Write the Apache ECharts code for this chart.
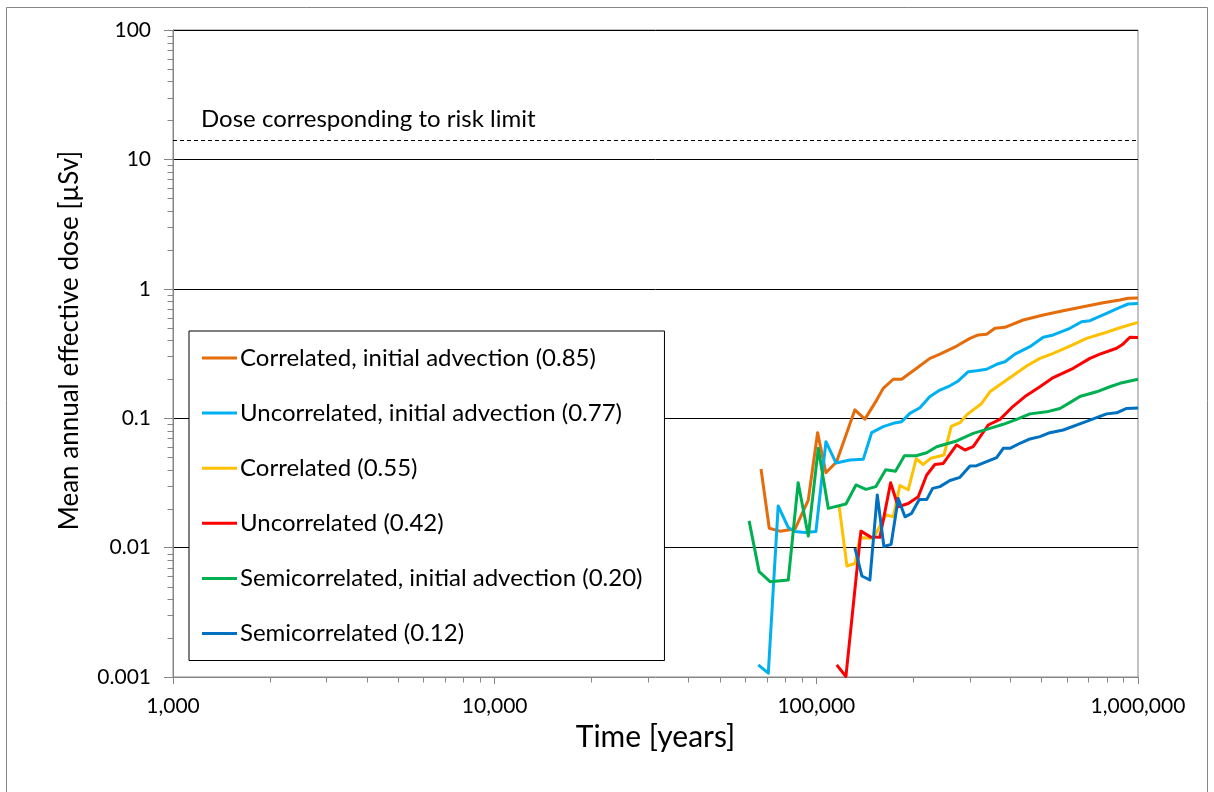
<!DOCTYPE html>
<html>
<head>
<meta charset="utf-8">
<title>Mean annual effective dose</title>
<script src="https://cdn.jsdelivr.net/npm/echarts/dist/echarts.min.js"></script>
<style>
  html, body { margin: 0; padding: 0; background: #ffffff; }
  #chart { width: 1214px; height: 792px; }
</style>
</head>
<body>
<div id="chart"></div>
<script>
// Time [years] and mean annual effective dose [µSv] pairs for each case
const correlatedInitialAdvection = [
  [67300, 0.0405], [71400, 0.0141], [77000, 0.0134], [85800, 0.0139], [94400, 0.0233],
  [100900, 0.0773], [107100, 0.0379], [115600, 0.0461], [131800, 0.116], [141600, 0.0984],
  [154000, 0.138], [161400, 0.170], [173400, 0.200], [184100, 0.200], [205000, 0.243],
  [225500, 0.290], [242300, 0.313], [273100, 0.361], [300300, 0.414], [318700, 0.440],
  [338400, 0.445], [359100, 0.495], [385700, 0.504], [439700, 0.574], [507500, 0.627],
  [585500, 0.677], [675500, 0.727], [779500, 0.781], [878500, 0.819], [932200, 0.845],
  [1000000, 0.85]
];
const uncorrelatedInitialAdvection = [
  [66000, 0.00124], [70900, 0.00107], [76100, 0.0210], [81800, 0.0143], [85800, 0.0133],
  [92200, 0.0131], [99700, 0.0133], [107100, 0.0658], [115100, 0.0451], [127200, 0.0475],
  [139900, 0.0481], [148600, 0.0773], [161400, 0.0860], [173400, 0.0913], [184100, 0.0940],
  [195400, 0.109], [209900, 0.1205], [225500, 0.147], [242300, 0.165], [260200, 0.178],
  [276200, 0.194], [296700, 0.229], [315000, 0.233], [338400, 0.239], [363500, 0.261],
  [385800, 0.273], [414500, 0.313], [461300, 0.357], [507500, 0.422], [545100, 0.440],
  [614200, 0.495], [667800, 0.557], [708700, 0.567], [798700, 0.647], [878500, 0.719],
  [932200, 0.763], [1000000, 0.77]
];
const correlated = [
  [117800, 0.0207], [124500, 0.00721], [131800, 0.00754], [136600, 0.0119], [150300, 0.0118],
  [164600, 0.0179], [173400, 0.0173], [181900, 0.0302], [193100, 0.0280], [204400, 0.0486],
  [214900, 0.0439], [226800, 0.0490], [249300, 0.0519], [262600, 0.0866], [279600, 0.0923],
  [293300, 0.106], [326500, 0.130], [346400, 0.160], [390400, 0.197], [450600, 0.253],
  [495500, 0.290], [545100, 0.317], [614200, 0.361], [692100, 0.414], [779500, 0.453],
  [878500, 0.500], [1000000, 0.55]
];
const uncorrelated = [
  [115700, 0.00124], [123600, 0.00101], [137600, 0.0134], [147300, 0.0121], [157600, 0.0120],
  [170200, 0.0317], [179700, 0.0207], [193100, 0.0219], [207400, 0.0247], [220300, 0.0364],
  [233700, 0.0439], [248100, 0.0447], [273000, 0.0621], [289700, 0.0568], [307400, 0.0602],
  [342300, 0.0886], [372200, 0.098], [404700, 0.1205], [445100, 0.147], [495500, 0.175],
  [545100, 0.206], [629000, 0.243], [708700, 0.290], [761300, 0.313], [858100, 0.347],
  [899500, 0.375], [943600, 0.422], [1000000, 0.42]
];
const semicorrelatedInitialAdvection = [
  [61800, 0.0161], [66400, 0.00652], [71800, 0.00545], [81800, 0.00562], [87800, 0.0317],
  [94400, 0.0123], [101400, 0.0585], [108900, 0.0201], [123600, 0.0217], [132800, 0.0305],
  [142600, 0.0282], [153200, 0.0296], [164300, 0.0400], [176200, 0.0389], [187900, 0.0512],
  [204000, 0.0513], [220300, 0.0541], [236600, 0.0602], [273000, 0.0667], [307400, 0.0764],
  [346400, 0.0835], [381100, 0.0897], [419500, 0.098], [461300, 0.108], [520000, 0.112],
  [571800, 0.119], [614200, 0.132], [659700, 0.147], [743500, 0.160], [817800, 0.175],
  [878500, 0.186], [1000000, 0.20]
];
const semicorrelated = [
  [131800, 0.00993], [138600, 0.00603], [146700, 0.00562], [154700, 0.0255], [162200, 0.0102],
  [170800, 0.0106], [179700, 0.0240], [188600, 0.0173], [197800, 0.0184], [208900, 0.0235],
  [220300, 0.0235], [229900, 0.0287], [242300, 0.0296], [260200, 0.0330], [279600, 0.0349],
  [300300, 0.0427], [315000, 0.0430], [338400, 0.0461], [363500, 0.0495], [381100, 0.0585],
  [399800, 0.0585], [429500, 0.0640], [461300, 0.0691], [495500, 0.0720], [532300, 0.0773],
  [585500, 0.0811], [675500, 0.0923], [743500, 0.101], [798700, 0.108], [858100, 0.110],
  [921800, 0.119], [1000000, 0.12]
];

const seriesNames = [
  'Correlated, initial advection (0.85)',
  'Uncorrelated, initial advection (0.77)',
  'Correlated (0.55)',
  'Uncorrelated (0.42)',
  'Semicorrelated, initial advection (0.20)',
  'Semicorrelated (0.12)'
];
const seriesColors = ['#E46C0A', '#00B0F0', '#FFC000', '#FF0000', '#00B050', '#0070C0'];
const seriesData = [
  correlatedInitialAdvection, uncorrelatedInitialAdvection, correlated,
  uncorrelated, semicorrelatedInitialAdvection, semicorrelated
];

// Dose corresponding to the risk limit [µSv]
const riskLimitDose = 14;
const riskLimitLabel = 'Dose corresponding to risk limit';

// Axis ranges and minor tick multipliers for the logarithmic axes
const timeMin = 1000, timeMax = 1000000;
const doseMin = 0.001, doseMax = 100;
const minorMultipliers = [2, 3, 4, 5, 6, 7, 8, 9];
const timeDecades = [1000, 10000, 100000];
const doseDecades = [0.001, 0.01, 0.1, 1, 10];

const axisGrey = '#868686';
const fontFamily = 'Lato, "Noto Sans", sans-serif';

const timeMinorTicks = [];
timeDecades.forEach(d => minorMultipliers.forEach(m => timeMinorTicks.push([d * m, doseMin])));
const doseMinorTicks = [];
doseDecades.forEach(d => minorMultipliers.forEach(m => doseMinorTicks.push([timeMin, +(d * m).toPrecision(3)])));

function tickRenderer(horizontal, len) {
  return function (params, api) {
    const p = api.coord([api.value(0), api.value(1)]);
    const x = Math.round(p[0]) + 0.5, y = Math.round(p[1]) + 0.5;
    return {
      type: 'line',
      shape: horizontal ? { x1: x - len, y1: y, x2: x, y2: y } : { x1: x, y1: y, x2: x, y2: y + len },
      style: { stroke: axisGrey, lineWidth: 1 }
    };
  };
}

const lineSeries = seriesNames.map((name, i) => {
  const s = {
    name: name,
    type: 'line',
    data: seriesData[i],
    showSymbol: false,
    symbol: 'none',
    lineStyle: { width: 3, color: seriesColors[i], join: 'round' },
    itemStyle: { color: seriesColors[i] },
    emphasis: { disabled: true },
    z: 3 + i
  };
  if (i === 0) {
    s.markLine = {
      silent: true,
      symbol: ['none', 'none'],
      animation: false,
      lineStyle: { color: '#000000', type: [4, 3], width: 1 },
      label: {
        show: true,
        position: 'insideStartTop',
        formatter: riskLimitLabel,
        color: '#000000',
        fontFamily: fontFamily,
        fontSize: 24,
        distance: [28, 9]
      },
      data: [{ yAxis: riskLimitDose }]
    };
  }
  return s;
});

const chart = echarts.init(document.getElementById('chart'), null, { renderer: 'canvas' });
chart.setOption({
  animation: false,
  backgroundColor: '#ffffff',
  textStyle: { fontFamily: fontFamily, color: '#000000' },
  graphic: [{
    type: 'rect',
    shape: { x: 6.5, y: 7.5, width: 1201, height: 800 },
    style: { fill: 'none', stroke: axisGrey, lineWidth: 1 },
    silent: true,
    z: -10
  }],
  grid: {
    left: 173, right: 76, top: 30, bottom: 115,
    containLabel: false,
    outerBoundsMode: 'none',
    show: true,
    borderColor: axisGrey,
    borderWidth: 1,
    backgroundColor: 'transparent'
  },
  legend: {
    orient: 'vertical',
    left: 189,
    top: 331,
    data: seriesNames,
    selectedMode: false,
    icon: 'rect',
    itemWidth: 35,
    itemHeight: 3,
    itemGap: 31.1,
    padding: [15, 22, 15, 13],
    borderColor: '#000000',
    borderWidth: 1,
    backgroundColor: '#ffffff',
    textStyle: { fontFamily: fontFamily, fontSize: 24, color: '#000000', padding: [0, 0, 0, -2] }
  },
  xAxis: {
    type: 'log',
    logBase: 10,
    min: timeMin,
    max: timeMax,
    name: 'Time [years]',
    nameLocation: 'middle',
    nameGap: 40,
    nameTextStyle: { fontFamily: fontFamily, fontSize: 30, color: '#000000' },
    axisLine: { show: true, lineStyle: { color: axisGrey, width: 1 } },
    axisTick: { show: true, length: 7, lineStyle: { color: axisGrey } },
    axisLabel: {
      fontFamily: fontFamily, fontSize: 21, color: '#000000', margin: 19,
      formatter: v => Math.round(v).toLocaleString('en-US')
    },
    splitLine: { show: false }
  },
  yAxis: {
    type: 'log',
    logBase: 10,
    min: doseMin,
    max: doseMax,
    name: 'Mean annual effective dose [µSv]',
    nameLocation: 'middle',
    nameGap: 90,
    nameTextStyle: { fontFamily: fontFamily, fontSize: 26, color: '#000000', padding: [0, 0, 0, 26] },
    axisLine: { show: true, lineStyle: { color: axisGrey, width: 1 } },
    axisTick: { show: true, length: 9, lineStyle: { color: axisGrey } },
    axisLabel: {
      fontFamily: fontFamily, fontSize: 21, color: '#000000', margin: 22,
      formatter: v => String(+v.toPrecision(3))
    },
    splitLine: { show: true, showMinLine: false, lineStyle: { color: '#000000', width: 1 } }
  },
  series: lineSeries.concat([
    {
      type: 'custom',
      name: 'time minor ticks',
      silent: true,
      clip: false,
      data: timeMinorTicks,
      renderItem: tickRenderer(false, 5),
      z: 1
    },
    {
      type: 'custom',
      name: 'dose minor ticks',
      silent: true,
      clip: false,
      data: doseMinorTicks,
      renderItem: tickRenderer(true, 6),
      z: 1
    }
  ])
});
</script>
</body>
</html>
